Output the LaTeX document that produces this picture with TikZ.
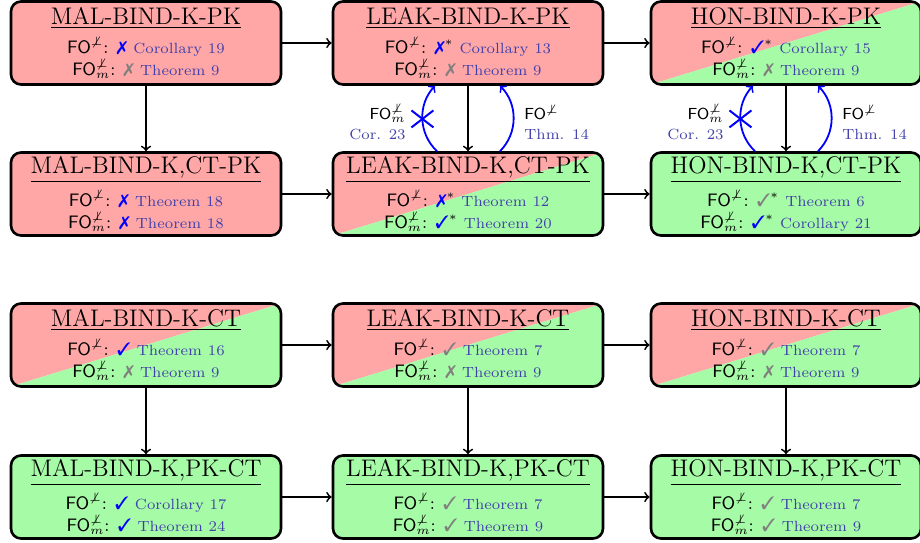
\documentclass[tikz,border=0pt]{standalone}
\usepackage{pifont}
\usetikzlibrary{shapes.misc}

\definecolor{badred}{RGB}{255,166,166}
\definecolor{goodgreen}{RGB}{166,251,166}
\definecolor{refblue}{RGB}{64,64,170}

\newcommand{\fo}{$\mathsf{FO}^{\not\perp}$}
\newcommand{\fom}{$\mathsf{FO}^{\not\perp}_{m}$}
\newcommand{\bno}{\textcolor{blue}{\ding{55}}}
\newcommand{\byes}{\textcolor{blue}{\ding{51}}}
\newcommand{\gno}{\textcolor{gray}{\ding{55}}}
\newcommand{\gyes}{\textcolor{gray}{\ding{51}}}
\newcommand{\reff}[1]{{\fontsize{7.4}{8}\selectfont\textcolor{refblue}{#1}}}

\begin{document}
\begin{tikzpicture}[x=0.5pt,y=-0.5pt,
    box/.style={draw, line width=1.3pt, rounded corners=5pt, minimum width=135pt,
        minimum height=41.5pt, align=center, inner sep=1pt, font=\small},
    bad/.style={box, fill=badred},
    good/.style={box, fill=goodgreen},
    mixed/.style={box, path picture={
        \fill[badred] (path picture bounding box.south west) -- (path picture bounding box.north east)
            -- (path picture bounding box.north west) -- cycle;
        \fill[goodgreen] (path picture bounding box.south west) -- (path picture bounding box.north east)
            -- (path picture bounding box.south east) -- cycle;}},
    imp/.style={->, line width=0.9pt},
    sep/.style={->, blue, line width=0.9pt}]
    \useasboundingbox (0,0) rectangle (920,542);

    % PK rows
    \node[bad] (malpk) at (146,43) {\underline{\large MAL-BIND-K-PK}\\[3.5pt]
        \fo: \bno\ \reff{Corollary 19}\\ \fom: \gno\ \reff{Theorem 9}};
    \node[bad] (leakpk) at (468,43) {\underline{\large LEAK-BIND-K-PK}\\[3.5pt]
        \fo: \bno$^*$ \reff{Corollary 13}\\ \fom: \gno\ \reff{Theorem 9}};
    \node[mixed] (honpk) at (786,43) {\underline{\large HON-BIND-K-PK}\\[3.5pt]
        \fo: \byes$^*$ \reff{Corollary 15}\\ \fom: \gno\ \reff{Theorem 9}};

    \node[bad] (malctpk) at (146,194) {\underline{\large MAL-BIND-K,CT-PK}\\[3pt]
        \fo: \bno\ \reff{Theorem 18}\\ \fom: \bno\ \reff{Theorem 18}};
    \node[mixed] (leakctpk) at (468,194) {\underline{\large LEAK-BIND-K,CT-PK}\\[3pt]
        \fo: \bno$^*$ \reff{Theorem 12}\\ \fom: \byes$^*$ \reff{Theorem 20}};
    \node[good] (honctpk) at (786,194) {\underline{\large HON-BIND-K,CT-PK}\\[3pt]
        \fo: \gyes$^*$ \reff{Theorem 6}\\ \fom: \byes$^*$ \reff{Corollary 21}};

    % CT rows
    \node[mixed] (malct) at (146,345) {\underline{\large MAL-BIND-K-CT}\\[3.5pt]
        \fo: \byes\ \reff{Theorem 16}\\ \fom: \gno\ \reff{Theorem 9}};
    \node[mixed] (leakct) at (468,345) {\underline{\large LEAK-BIND-K-CT}\\[3.5pt]
        \fo: \gyes\ \reff{Theorem 7}\\ \fom: \gno\ \reff{Theorem 9}};
    \node[mixed] (honct) at (786,345) {\underline{\large HON-BIND-K-CT}\\[3.5pt]
        \fo: \gyes\ \reff{Theorem 7}\\ \fom: \gno\ \reff{Theorem 9}};

    \node[good] (malpkct) at (146,497) {\underline{\large MAL-BIND-K,PK-CT}\\[3pt]
        \fo: \byes\ \reff{Corollary 17}\\ \fom: \byes\ \reff{Theorem 24}};
    \node[good] (leakpkct) at (468,497) {\underline{\large LEAK-BIND-K,PK-CT}\\[3pt]
        \fo: \gyes\ \reff{Theorem 7}\\ \fom: \gyes\ \reff{Theorem 9}};
    \node[good] (honpkct) at (786,497) {\underline{\large HON-BIND-K,PK-CT}\\[3pt]
        \fo: \gyes\ \reff{Theorem 7}\\ \fom: \gyes\ \reff{Theorem 9}};

    % implications
    \draw[imp] (malpk) -- (leakpk);
    \draw[imp] (leakpk) -- (honpk);
    \draw[imp] (malctpk) -- (leakctpk);
    \draw[imp] (leakctpk) -- (honctpk);
    \draw[imp] (malpk) -- (malctpk);
    \draw[imp] (leakpk) -- (leakctpk);
    \draw[imp] (honpk) -- (honctpk);

    \draw[imp] (malct) -- (leakct);
    \draw[imp] (leakct) -- (honct);
    \draw[imp] (malpkct) -- (leakpkct);
    \draw[imp] (leakpkct) -- (honpkct);
    \draw[imp] (malct) -- (malpkct);
    \draw[imp] (leakct) -- (leakpkct);
    \draw[imp] (honct) -- (honpkct);

    % separations
    \draw[sep] ([xshift=-15.5pt]leakctpk.north) to[bend left=45]
        node[pos=0.5, cross out, draw, line width=1pt, minimum width=10pt, minimum height=7.5pt, inner sep=0pt] (leakx) {}
        ([xshift=-16.5pt]leakpk.south);
    \draw[sep] ([xshift=16pt]leakctpk.north) to[bend right=45] ([xshift=16pt]leakpk.south);
    \draw[sep] ([xshift=-15.5pt]honctpk.north) to[bend left=45]
        node[pos=0.5, cross out, draw, line width=1pt, minimum width=10pt, minimum height=7.5pt, inner sep=0pt] (honx) {}
        ([xshift=-16.5pt]honpk.south);
    \draw[sep] ([xshift=16pt]honctpk.north) to[bend right=45] ([xshift=16pt]honpk.south);

    \node[anchor=east, align=right, inner sep=0pt] (leakcor) at (406,122)
        {\footnotesize\fom\\[-2pt] \reff{Cor. 23}};
    \node[anchor=west, align=left, inner sep=0pt] (leakthm) at (524,122)
        {\footnotesize\fo\\[-2pt] \reff{Thm. 14}};
    \node[anchor=east, align=right, inner sep=0pt] (honcor) at (724,122)
        {\footnotesize\fom\\[-2pt] \reff{Cor. 23}};
    \node[anchor=west, align=left, inner sep=0pt] (honthm) at (842,122)
        {\footnotesize\fo\\[-2pt] \reff{Thm. 14}};
\end{tikzpicture}
\end{document}
